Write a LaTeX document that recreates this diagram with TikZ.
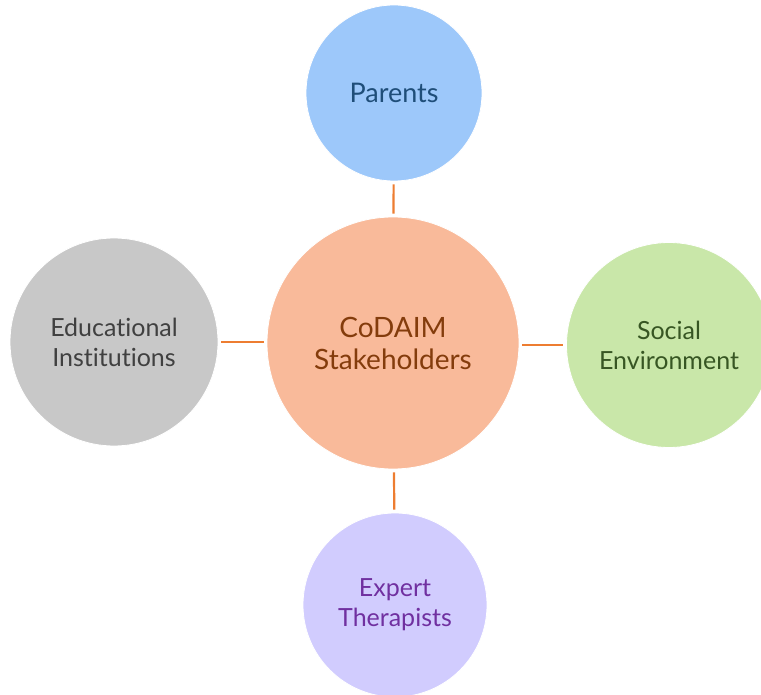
\documentclass[tikz,border=0pt]{standalone}
\usepackage{fontspec}
\setmainfont{Lato}[Ligatures={NoCommon}]
\definecolor{pfill}{HTML}{9DC8FA}
\definecolor{ptext}{HTML}{1F4E79}
\definecolor{efill}{HTML}{C8C8C8}
\definecolor{etext}{HTML}{404040}
\definecolor{cfill}{HTML}{F9BA9A}
\definecolor{ctext}{HTML}{843C0C}
\definecolor{sfill}{HTML}{C9E7A9}
\definecolor{stext}{HTML}{375623}
\definecolor{xfill}{HTML}{D1CCFE}
\definecolor{xtext}{HTML}{7030A0}
\definecolor{conn}{HTML}{ED7D31}
\tikzset{
  bubble/.style={circle, inner sep=0pt, align=center, draw=white, line width=0.8pt},
  link/.style={draw=conn, line width=2.2pt, shorten >=3pt, shorten <=3pt}
}
\begin{document}
\begin{tikzpicture}[x=1pt,y=-1pt]
\useasboundingbox (0,0) rectangle (761,695);
\node[bubble, fill=cfill, text=ctext, minimum size=252pt, font=\fontsize{28}{32}\selectfont] (c) at (393,343) {CoDAIM\\Stakeholders};
\node[bubble, fill=pfill, text=ptext, minimum size=176pt, font=\fontsize{27}{30}\selectfont] (p) at (394,93) {Parents};
\node[bubble, fill=efill, text=etext, minimum size=208pt, font=\fontsize{25}{30}\selectfont] (e) at (114,342) {Educational\\Institutions};
\node[bubble, fill=sfill, text=stext, minimum size=205pt, font=\fontsize{25}{30}\selectfont] (s) at (669,345) {Social\\Environment};
\node[bubble, fill=xfill, text=xtext, minimum size=184pt, font=\fontsize{25}{30}\selectfont] (x) at (395,605) {Expert\\Therapists};
\draw[link] (p) -- (c);
\draw[link] (e.east) -- (c.west |- e.east);
\draw[link] (c.east |- s.west) -- (s.west);
\draw[link] (c) -- (x);
\end{tikzpicture}
\end{document}
